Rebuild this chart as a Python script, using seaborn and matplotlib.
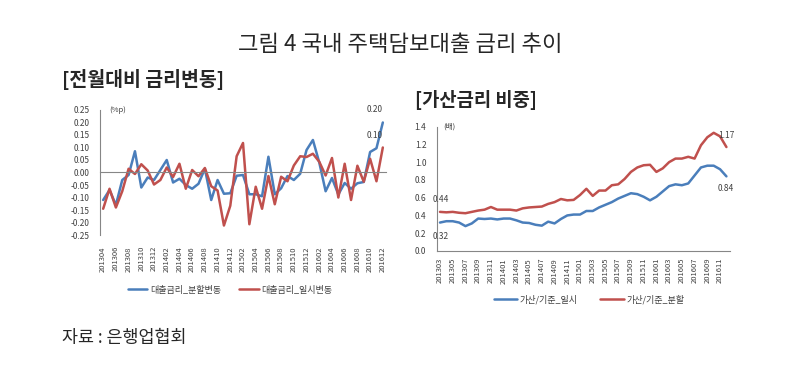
import pandas as pd
import matplotlib
matplotlib.use("Agg")
import matplotlib.pyplot as plt
import seaborn as sns

# left chart: 전월대비 금리변동 (201304 ~ 201612)
left_months = [f"{y}{m:02d}" for y in range(2013, 2017) for m in range(1, 13)][3:]
split_change = [-0.11, -0.07, -0.13, -0.03, -0.01, 0.085, -0.06, -0.02, -0.03, 0.01,
                0.05, -0.04, -0.025, -0.05, -0.065, -0.045, 0.015, -0.11, -0.03, -0.085,
                -0.083, -0.013, -0.01, -0.087, -0.087, -0.095, 0.063, -0.087, -0.063, -0.014,
                -0.03, -0.005, 0.09, 0.13, 0.04, -0.075, -0.022, -0.088, -0.042, -0.065,
                -0.043, -0.038, 0.082, 0.097, 0.20]
temp_change = [-0.145, -0.065, -0.14, -0.075, 0.015, -0.006, 0.033, 0.008, -0.048, -0.03,
               0.02, -0.018, 0.035, -0.065, 0.01, -0.015, 0.018, -0.055, -0.072, -0.212,
               -0.133, 0.065, 0.118, -0.207, -0.057, -0.145, -0.014, -0.127, -0.017, -0.035,
               0.028, 0.065, 0.062, 0.075, 0.043, -0.012, 0.058, -0.1, 0.035, -0.11,
               0.027, -0.037, 0.055, -0.035, 0.10]

# right chart: 가산금리 비중 (201303 ~ 201612)
right_months = [f"{y}{m:02d}" for y in range(2013, 2017) for m in range(1, 13)][2:]
ratio_temp = [0.32, 0.335, 0.335, 0.32, 0.28, 0.31, 0.365, 0.36, 0.365, 0.355,
              0.365, 0.365, 0.345, 0.32, 0.315, 0.295, 0.285, 0.33, 0.31, 0.36,
              0.40, 0.41, 0.41, 0.45, 0.45, 0.49, 0.52, 0.55, 0.59, 0.62,
              0.65, 0.64, 0.61, 0.57, 0.61, 0.67, 0.73, 0.75, 0.74, 0.76,
              0.85, 0.94, 0.96, 0.96, 0.92, 0.84]
ratio_split = [0.44, 0.435, 0.44, 0.43, 0.425, 0.44, 0.455, 0.465, 0.495, 0.465,
               0.465, 0.465, 0.455, 0.48, 0.49, 0.495, 0.50, 0.53, 0.55, 0.585,
               0.57, 0.575, 0.63, 0.70, 0.62, 0.68, 0.68, 0.74, 0.75, 0.81,
               0.89, 0.94, 0.965, 0.97, 0.89, 0.93, 1.0, 1.04, 1.04, 1.06,
               1.04, 1.19, 1.28, 1.33, 1.29, 1.17]

BLUE = "#4A7EBB"
RED = "#C0504D"
AXIS_GRAY = "#868686"
TEXT = "#404040"

sns.set_style("white")
plt.rcParams["font.family"] = ["Noto Sans CJK KR", "DejaVu Sans"]

fig = plt.figure(figsize=(8, 3.68), dpi=100)
fig.text(0.5, 0.878, "그림 4 국내 주택담보대출 금리 추이", ha="center", va="center", fontsize=16)
fig.text(0.0775, 0.783, "[전월대비 금리변동]", ha="left", va="center", fontsize=14, fontweight="bold")
fig.text(0.519, 0.728, "[가산금리 비중]", ha="left", va="center", fontsize=13.5, fontweight="bold")
fig.text(0.0775, 0.082, "자료 : 은행업협회", ha="left", va="center", fontsize=12.5)

# ---- left ----
df_l = pd.DataFrame({
    "idx": list(range(len(left_months))) * 2,
    "value": split_change + temp_change,
    "series": ["대출금리_분할변동"] * len(left_months) + ["대출금리_일시변동"] * len(left_months),
})
ax1 = fig.add_axes([0.125, 0.3614, 0.3575, 0.3397])
sns.lineplot(data=df_l, x="idx", y="value", hue="series", palette=[BLUE, RED],
             linewidth=1.8, ax=ax1, legend=True)
ax1.set_xlim(-0.5, len(left_months) - 0.5)
ax1.set_ylim(-0.25, 0.25)
ax1.set_yticks([i * 0.05 - 0.25 for i in range(11)])
ax1.set_yticklabels([f"{i * 0.05 - 0.25:.2f}" for i in range(11)])
for s in ["top", "right"]:
    ax1.spines[s].set_visible(False)
ax1.spines["bottom"].set_position(("data", 0))
for s in ["left", "bottom"]:
    ax1.spines[s].set_color(AXIS_GRAY)
    ax1.spines[s].set_linewidth(0.8)
ax1.set_xticks(range(len(left_months)))
ax1.tick_params(axis="x", length=2.5, color=AXIS_GRAY, labelbottom=False)
ax1.tick_params(axis="y", length=2.5, color=AXIS_GRAY, labelsize=6, labelcolor=TEXT, pad=5)
ax1.set_xlabel("")
ax1.set_ylabel("")
sec1 = ax1.secondary_xaxis("bottom")
sec1.set_xticks(range(0, len(left_months), 2))
sec1.set_xticklabels(left_months[::2], rotation=90)
sec1.tick_params(length=0, labelsize=5.5, labelcolor=TEXT, pad=8)
sec1.spines["bottom"].set_visible(False)
ax1.text(0.063, 1.0, "(%p)", transform=ax1.transAxes, ha="center", va="center", fontsize=5.5, color=TEXT)
ax1.annotate("0.20", (len(left_months) - 1, split_change[-1]), xytext=(-8, 13),
             textcoords="offset pixels", ha="center", va="center", fontsize=6, color=TEXT)
ax1.annotate("0.10", (len(left_months) - 1, temp_change[-1]), xytext=(-8, 12),
             textcoords="offset pixels", ha="center", va="center", fontsize=6, color=TEXT)
ax1.legend(loc="center", bbox_to_anchor=(0.455, -0.44), ncol=2, frameon=False,
           fontsize=6.5, handlelength=2.2, columnspacing=2.0, handletextpad=0.3,
           labelcolor=TEXT)

# ---- right ----
df_r = pd.DataFrame({
    "idx": list(range(len(right_months))) * 2,
    "value": ratio_temp + ratio_split,
    "series": ["가산/기준_일시"] * len(right_months) + ["가산/기준_분할"] * len(right_months),
})
ax2 = fig.add_axes([0.546, 0.318, 0.366, 0.338])
sns.lineplot(data=df_r, x="idx", y="value", hue="series", palette=[BLUE, RED],
             linewidth=1.8, ax=ax2, legend=True)
ax2.set_xlim(-0.5, len(right_months) - 0.5)
ax2.set_ylim(0, 1.4)
ax2.set_yticks([i * 0.2 for i in range(8)])
ax2.set_yticklabels([f"{i * 0.2:.1f}" for i in range(8)])
ax2.set_xticks(range(0, len(right_months), 2))
ax2.set_xticklabels(right_months[::2], rotation=90)
ax2.set_xticks(range(len(right_months)), minor=True)
for s in ["top", "right"]:
    ax2.spines[s].set_visible(False)
for s in ["left", "bottom"]:
    ax2.spines[s].set_color(AXIS_GRAY)
    ax2.spines[s].set_linewidth(0.8)
ax2.tick_params(axis="x", which="both", length=3, color=AXIS_GRAY, labelsize=5.5, labelcolor=TEXT, pad=2)
ax2.tick_params(axis="y", length=2.5, color=AXIS_GRAY, labelsize=6, labelcolor=TEXT, pad=5)
ax2.set_xlabel("")
ax2.set_ylabel("")
ax2.text(0.044, 1.0, "(배)", transform=ax2.transAxes, ha="center", va="center", fontsize=5.5, color=TEXT)
ax2.annotate("0.44", (0, ratio_split[0]), xytext=(1, 12), textcoords="offset pixels",
             ha="center", va="center", fontsize=6, color=TEXT)
ax2.annotate("0.32", (0, ratio_temp[0]), xytext=(1, -14), textcoords="offset pixels",
             ha="center", va="center", fontsize=6, color=TEXT)
ax2.annotate("1.17", (len(right_months) - 1, ratio_split[-1]), xytext=(0, 12),
             textcoords="offset pixels", ha="center", va="center", fontsize=6, color=TEXT)
ax2.annotate("0.84", (len(right_months) - 1, ratio_temp[-1]), xytext=(-1, -12),
             textcoords="offset pixels", ha="center", va="center", fontsize=6, color=TEXT)
ax2.legend(loc="center", bbox_to_anchor=(0.52, -0.39), ncol=2, frameon=False,
           fontsize=6.5, handlelength=2.6, columnspacing=2.5, handletextpad=0.3,
           labelcolor=TEXT)

fig.savefig("out.png", dpi=100)
